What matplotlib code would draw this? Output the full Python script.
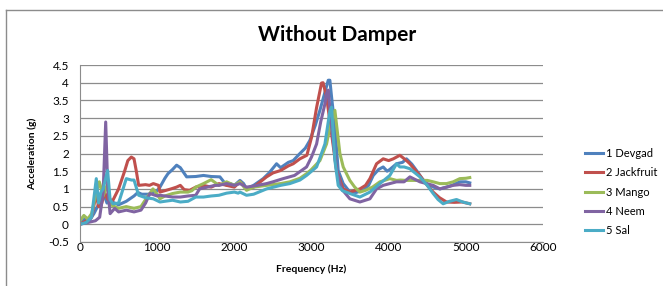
import matplotlib.pyplot as plt
from matplotlib.lines import Line2D

# series data (frequency in Hz, acceleration in g)
devgad_f = [0, 60, 120, 180, 250, 300, 350, 400, 450, 500, 600, 700, 750, 800, 900, 1000, 1036, 1100, 1140,
            1200, 1252, 1300, 1382, 1500, 1600, 1700, 1813, 1900, 1950, 2000, 2073, 2120, 2158, 2250, 2374,
            2450, 2547, 2600, 2700, 2763, 2850, 2920, 2979, 3050, 3109, 3170, 3217, 3238, 3260, 3303, 3346,
            3411, 3497, 3580, 3670, 3740, 3800, 3870, 3929, 3980, 4015, 4102, 4180, 4231, 4300, 4361, 4430,
            4490, 4580, 4663, 4750, 4820, 4922, 5000, 5051]
devgad = [0, 0.15, 0.1, 0.3, 0.6, 0.9, 0.6, 0.65, 0.6, 0.55, 0.65, 0.8, 0.9, 0.85, 0.85, 0.95, 1.05, 1.3, 1.43,
          1.55, 1.67, 1.6, 1.34, 1.35, 1.38, 1.35, 1.34, 1.1, 1.15, 1.1, 1.24, 1.15, 1.0, 1.1, 1.29,
          1.45, 1.71, 1.6, 1.75, 1.8, 2.0, 2.15, 2.37, 2.8, 3.22, 3.7, 4.07, 4.07, 3.6, 2.75, 1.52,
          1.15, 0.91, 0.9, 0.96, 1.1, 1.38, 1.55, 1.62, 1.5, 1.55, 1.71, 1.75, 1.85, 1.7, 1.52, 1.3,
          1.15, 1.05, 1.0, 1.05, 1.1, 1.2, 1.2, 1.17]

jack_f = [0, 80, 150, 211, 240, 270, 320, 360, 427, 500, 578, 620, 665, 700, 730, 760, 850, 900, 950, 1018,
          1036, 1100, 1180, 1250, 1300, 1350, 1420, 1500, 1600, 1700, 1800, 1900, 2000, 2073, 2158, 2250,
          2418, 2500, 2600, 2700, 2763, 2850, 2940, 3001, 3066, 3130, 3150, 3195, 3260, 3325, 3411, 3497,
          3627, 3700, 3757, 3843, 3929, 4000, 4060, 4145, 4231, 4275, 4404, 4500, 4577, 4660, 4750, 4850,
          4950, 5051]
jack = [0, 0.1, 0.2, 0.87, 0.5, 0.5, 0.9, 0.7, 0.68, 1.0, 1.5, 1.8, 1.9, 1.85, 1.5, 1.1, 1.12, 1.1, 1.15, 1.1,
        0.91, 0.95, 1.0, 1.05, 1.1, 0.98, 0.96, 1.05, 1.1, 1.05, 1.15, 1.1, 1.05, 1.2, 1.0, 1.05,
        1.34, 1.45, 1.52, 1.65, 1.71, 1.85, 1.95, 2.46, 3.3, 3.99, 4.0, 3.6, 2.56, 1.52, 1.0, 0.91,
        1.0, 1.1, 1.29, 1.71, 1.85, 1.8, 1.85, 1.95, 1.8, 1.71, 1.38, 1.1, 0.91, 0.75, 0.63, 0.62,
        0.63, 0.58]

mango_f = [0, 50, 100, 150, 200, 250, 300, 350, 400, 500, 600, 700, 790, 850, 945, 1000, 1036, 1100, 1200,
           1300, 1400, 1450, 1500, 1600, 1700, 1800, 1900, 2000, 2073, 2158, 2250, 2418, 2600, 2720, 2850,
           2936, 3000, 3109, 3195, 3240, 3303, 3368, 3411, 3497, 3560, 3627, 3700, 3790, 3886, 3960, 4015,
           4102, 4150, 4231, 4300, 4404, 4500, 4577, 4663, 4750, 4836, 4922, 5000, 5051]
mango = [0.1, 0.25, 0.15, 0.3, 0.8, 1.2, 0.8, 1.1, 0.55, 0.45, 0.5, 0.45, 0.5, 0.7, 1.0, 0.85, 0.72, 0.8, 0.87,
         0.91, 0.91, 0.95, 1.05, 1.15, 1.26, 1.1, 1.2, 1.1, 1.2, 0.96, 1.05, 1.1, 1.15, 1.2, 1.3,
         1.43, 1.55, 1.8, 2.27, 2.75, 3.22, 2.0, 1.62, 1.24, 1.05, 0.91, 0.96, 1.05, 1.2, 1.25, 1.29,
         1.24, 1.25, 1.24, 1.24, 1.24, 1.24, 1.2, 1.15, 1.15, 1.2, 1.29, 1.3, 1.32]

neem_f = [0, 100, 200, 255, 300, 333, 360, 390, 450, 500, 600, 700, 790, 850, 905, 1000, 1036, 1100, 1200,
          1300, 1400, 1500, 1550, 1650, 1750, 1800, 1900, 2000, 2073, 2158, 2300, 2418, 2500, 2633, 2780,
          2936, 3000, 3066, 3120, 3174, 3195, 3217, 3260, 3325, 3390, 3497, 3627, 3757, 3843, 3929, 4015,
          4102, 4200, 4275, 4404, 4490, 4577, 4663, 4750, 4836, 4922, 5000, 5051]
neem = [0, 0.05, 0.1, 0.2, 0.9, 2.89, 1.0, 0.3, 0.45, 0.35, 0.4, 0.35, 0.4, 0.6, 0.87, 0.8, 0.82, 0.8, 0.77,
        0.77, 0.8, 0.82, 1.0, 1.05, 1.1, 1.1, 1.15, 1.1, 1.15, 1.05, 1.1, 1.15, 1.2, 1.29, 1.38,
        1.62, 1.9, 2.27, 2.9, 3.4, 3.7, 3.79, 2.75, 1.52, 1.0, 0.72, 0.63, 0.72, 1.0, 1.1, 1.15,
        1.2, 1.2, 1.34, 1.2, 1.15, 1.1, 1.0, 1.05, 1.1, 1.12, 1.1, 1.1]

sal_f = [0, 80, 150, 211, 240, 270, 300, 358, 390, 427, 500, 600, 667, 700, 760, 850, 950, 1036, 1100, 1200,
         1300, 1400, 1500, 1600, 1700, 1800, 1900, 2000, 2050, 2073, 2158, 2250, 2418, 2600, 2720, 2850,
         2936, 3066, 3174, 3238, 3260, 3303, 3346, 3400, 3497, 3627, 3757, 3886, 4015, 4102, 4145, 4200,
         4275, 4404, 4500, 4577, 4640, 4706, 4790, 4879, 4960, 5051]
sal = [0, 0.05, 0.2, 1.29, 0.6, 0.9, 1.0, 1.52, 0.7, 0.58, 0.6, 1.29, 1.25, 1.25, 0.82, 0.75, 0.72, 0.63, 0.65,
       0.68, 0.63, 0.65, 0.77, 0.77, 0.8, 0.82, 0.88, 0.91, 0.88, 0.91, 0.82, 0.85, 1.0, 1.1, 1.15, 1.25,
       1.38, 1.62, 2.27, 3.2, 3.31, 1.8, 1.1, 0.95, 0.87, 0.77, 0.91, 1.15, 1.38, 1.71, 1.62, 1.62,
       1.57, 1.34, 1.1, 0.87, 0.7, 0.58, 0.65, 0.7, 0.63, 0.58]

labels = ["1 Devgad", "2 Jackfruit", "3 Mango", "4 Neem", "5 Sal"]
colors = ["#4F81BD", "#C0504D", "#9BBB59", "#8064A2", "#4BACC6"]
y_ticks = [-0.5, 0, 0.5, 1, 1.5, 2, 2.5, 3, 3.5, 4, 4.5]
x_ticks = [0, 1000, 2000, 3000, 4000, 5000, 6000]

plt.rcParams['font.family'] = ['Lato', 'DejaVu Sans']

fig = plt.figure(figsize=(6.63, 2.86), dpi=100)
ax = fig.add_axes([80 / 663, 1 - 242 / 286, 463 / 663, 177 / 286])

series = [(devgad_f, devgad), (jack_f, jack), (mango_f, mango), (neem_f, neem), (sal_f, sal)]
for (f, v), c, lab in zip(series, colors, labels):
    ax.plot(f, v, color=c, lw=2.2, label=lab, solid_joinstyle='round')

ax.set_xlim(0, 6000)
ax.set_ylim(-0.5, 4.5)
ax.set_xticks(x_ticks)
ax.set_yticks(y_ticks)
ax.set_yticklabels([("%g" % t) for t in y_ticks])
ax.grid(axis='y', color='#8c8c8c', lw=0.9)
ax.set_axisbelow(True)
for s in ['top', 'right']:
    ax.spines[s].set_visible(False)
for s in ['left', 'bottom']:
    ax.spines[s].set_color('#8c8c8c')
ax.tick_params(axis='x', labelsize=8.5, length=0, pad=0)
ax.tick_params(axis='y', labelsize=8.5, length=0, pad=8)

ax.set_xlabel("Frequency (Hz)", fontsize=7.5, fontweight='bold', labelpad=8)
ax.set_ylabel("Acceleration (g)", fontsize=7.5, fontweight='bold', labelpad=8)
fig.text(0.508, 1 - 35 / 286, "Without Damper", ha='center', va='center', fontsize=15, fontweight='bold')

handles = [Line2D([0], [0], color=c, lw=2.2) for c in colors]
fig.legend(handles, labels, loc='center left', bbox_to_anchor=(575 / 663, 1 - 192 / 286),
           frameon=False, fontsize=8, labelspacing=0.75, handlelength=1.6, handletextpad=0.3)

# outer chart border (left and top visible)
fig.add_artist(Line2D([6 / 663, 6 / 663], [0, 1 - 10 / 286], color='#8c8c8c', lw=1))
fig.add_artist(Line2D([6 / 663, 1], [1 - 10 / 286, 1 - 10 / 286], color='#8c8c8c', lw=1))

fig.savefig("out.png", dpi=100)
